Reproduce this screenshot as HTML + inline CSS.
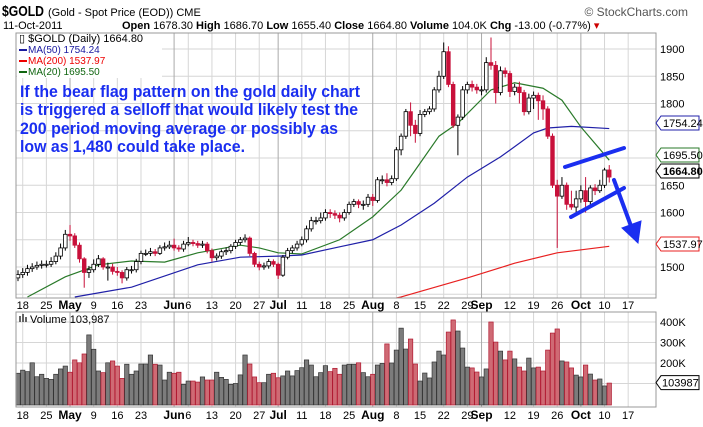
<!DOCTYPE html>
<html><head><meta charset="utf-8"><style>
body{margin:0;background:#fff;}
svg{display:block;font-family:"Liberation Sans",sans-serif;}
</style></head><body>
<svg id="chart" width="703" height="427" viewBox="0 0 703 427" xmlns="http://www.w3.org/2000/svg">
<g>
<text x="2" y="16" font-size="15" font-weight="bold" textLength="42" lengthAdjust="spacingAndGlyphs">$GOLD</text>
<text x="48" y="16" font-size="11">(Gold - Spot Price (EOD)) CME</text>
<text x="688" y="16" font-size="12" fill="#555" text-anchor="end">© StockCharts.com</text>
<text x="3" y="29" font-size="11">11-Oct-2011</text>
<text x="122" y="29" font-size="11"><tspan font-weight="bold">Open</tspan> 1678.30 <tspan font-weight="bold">High</tspan> 1686.70 <tspan font-weight="bold">Low</tspan> 1655.40 <tspan font-weight="bold">Close</tspan> 1664.80 <tspan font-weight="bold">Volume</tspan> 104.0K <tspan font-weight="bold">Chg</tspan> -13.00 (-0.77%) <tspan fill="#c00">▾</tspan></text>
</g>
<g id="grid"></g>
<g id="mas"></g>
<g id="candles"></g>
<g id="vols"></g>
<rect x="16" y="33" width="640" height="265" fill="none" stroke="#999"/>
<rect x="16" y="312" width="640" height="95" fill="none" stroke="#999"/>
<g>
<rect x="17" y="34" width="145" height="44" fill="#fff"/>
<text x="19" y="42" font-size="11">▯ $GOLD (Daily) 1664.80</text>
<rect x="19" y="49" width="8" height="2" fill="#1a1aa0"/>
<text x="28" y="53" font-size="10" fill="#1a1aa0">MA(50) 1754.24</text>
<rect x="19" y="60" width="8" height="2" fill="#e00"/>
<text x="28" y="64" font-size="10" fill="#e00">MA(200) 1537.97</text>
<rect x="19" y="71" width="8" height="2" fill="#116611"/>
<text x="28" y="75" font-size="10" fill="#116611">MA(20) 1695.50</text>
</g>
<g fill="#1a2ef0" font-size="17" font-weight="bold">
<text x="20" y="97" textLength="340" lengthAdjust="spacingAndGlyphs">If the bear flag pattern on the gold daily chart</text>
<text x="20" y="115" textLength="338" lengthAdjust="spacingAndGlyphs">is triggered a selloff that would likely test the</text>
<text x="20" y="134" textLength="318" lengthAdjust="spacingAndGlyphs">200 period moving average or possibly as</text>
<text x="20" y="152" textLength="225" lengthAdjust="spacingAndGlyphs">low as 1,480 could take place.</text>
</g>
<g stroke="#1a2ef0" stroke-width="4" stroke-linecap="round">
<line x1="565" y1="167" x2="624" y2="148"/>
<line x1="571" y1="217" x2="624" y2="188"/>
<line x1="614" y1="180" x2="631" y2="226"/>
<polygon points="622,228 641,221 638,243" fill="#1a2ef0" stroke-width="1"/>
</g>
<g id="tags"></g>
<g>
<rect x="19" y="316" width="2" height="6" fill="#666"/><rect x="22" y="314" width="2" height="8" fill="#666"/><rect x="25" y="317" width="2" height="5" fill="#666"/>
<text x="30" y="323" font-size="11">Volume 103,987</text>
</g>
</svg>
<script>
const C=[1486,1490,1497,1500,1503,1505,1505,1510,1520,1535,1560,
1557,1540,1515,1490,1495,1505,1515,1500,1500,1492,1490,1480,1495,1495,1510,1525,1525,1528,1525,1535,1537,1540,
1535,1533,1542,1545,1543,1540,1542,1530,1517,1520,1528,1530,1538,1545,1550,1553,1525,1505,1500,1502,1510,1505,
1485,1518,1530,1535,1542,1550,1570,1585,1585,1590,1600,1598,1595,1590,1600,1615,1620,1615,1615,1628,
1622,1660,1660,1655,1662,1715,1740,1785,1760,1745,1780,1785,1790,1825,1850,1895,1835,1760,1775,1825,1835,1830,1825,
1825,1875,1870,1820,1860,1855,1822,1830,1820,1785,1810,1815,1805,1790,1740,1650,1630,1650,1615,1610,1625,
1640,1620,1645,1640,1650,1678,1665];
const O=[1480,1486,1490,1497,1500,1503,1505,1505,1510,1520,1535,
1560,1557,1540,1515,1490,1495,1505,1515,1500,1500,1492,1490,1480,1495,1495,1510,1525,1525,1528,1525,1535,1537,
1540,1535,1533,1542,1545,1543,1540,1542,1530,1517,1520,1528,1530,1538,1545,1550,1553,1525,1505,1500,1502,1510,
1505,1485,1518,1530,1535,1542,1550,1570,1585,1585,1590,1600,1598,1595,1590,1600,1615,1620,1615,1615,
1628,1622,1660,1660,1655,1662,1715,1740,1785,1760,1745,1780,1785,1790,1825,1850,1895,1835,1760,1775,1825,1835,1830,
1825,1825,1875,1870,1820,1860,1855,1822,1830,1820,1785,1810,1815,1805,1790,1740,1650,1630,1650,1615,1610,
1625,1640,1620,1645,1640,1650,1678];
const H=[1494,1498,1504,1507,1510,1512,1512,1518,1527,1543,1568,
1577,1562,1545,1518,1502,1514,1522,1518,1508,1506,1500,1494,1500,1502,1515,1530,1532,1535,1533,1540,1545,1548,
1552,1540,1548,1555,1550,1548,1548,1546,1534,1525,1532,1536,1542,1550,1555,1560,1556,1528,1510,1508,1515,1514,
1508,1522,1535,1540,1548,1556,1576,1592,1592,1600,1606,1606,1604,1600,1606,1620,1625,1624,1622,1634,
1634,1665,1668,1672,1668,1720,1745,1790,1802,1770,1788,1790,1795,1830,1860,1912,1905,1840,1780,1832,1840,1842,1836,
1832,1885,1921,1878,1868,1866,1860,1836,1840,1825,1818,1822,1820,1815,1795,1745,1660,1665,1655,1640,1640,
1650,1665,1650,1652,1660,1682,1687];
const L=[1474,1480,1484,1491,1495,1497,1499,1500,1505,1514,1530,
1548,1535,1508,1462,1480,1490,1500,1495,1475,1486,1484,1470,1475,1488,1490,1505,1520,1520,1520,1522,1530,1533,
1530,1528,1528,1538,1538,1535,1535,1525,1510,1512,1515,1522,1525,1533,1540,1545,1520,1500,1494,1495,1497,1500,
1478,1482,1514,1525,1530,1538,1545,1565,1578,1580,1585,1590,1588,1582,1585,1596,1610,1608,1605,1610,
1612,1618,1652,1648,1650,1658,1705,1735,1740,1728,1740,1775,1780,1785,1820,1845,1830,1755,1705,1770,1818,1822,1818,
1815,1820,1862,1800,1815,1848,1812,1815,1800,1778,1780,1790,1770,1770,1735,1645,1535,1625,1605,1605,1600,
1618,1600,1610,1632,1636,1645,1655];
const volumes=[150,165,158,201,133,145,125,120,145,171,185,155,215,201,244,337,267,161,153,201,210,185,125,194,145,161,195,195,239,194,190,117,155,150,155,96,112,112,107,132,117,117,155,130,120,96,100,142,239,195,132,104,104,145,150,128,137,161,137,163,177,215,190,133,153,187,158,174,145,190,194,194,201,153,133,145,190,198,
293,200,263,370,268,317,195,112,151,127,205,258,239,351,410,356,273,180,176,156,132,171,400,302,258,
215,258,220,180,161,224,176,180,161,263,346,366,210,205,176,141,132,190,146,117,122,88,102];
const ma20Idx=[2,10,17,24,31,38,47,51,55,60,68,75,81,84,89,93,100,105,111,115,119,125];
const ma20Val=[1445,1482,1504,1511,1509,1526,1540,1535,1526,1524,1550,1592,1641,1678,1740,1764,1825,1838,1828,1806,1757,1696];
const ma50Idx=[12,24,38,47,55,60,68,75,81,88,95,102,109,112,117,125];
const ma50Val=[1445,1463,1504,1518,1520,1522,1537,1550,1577,1617,1665,1702,1746,1755,1758,1754];
const ma200Idx=[80,81,95,105,114,125];
const ma200Val=[1443,1445,1480,1507,1526,1538];
const tickIdx=[1,6,11,16,21,26,33,36,41,46,51,55,60,65,70,75,80,85,90,95,98,104,109,114,119,124,129];
const tickLabels=["18","25","May","9","16","23","Jun","6","13","20","27","Jul","11","18","25","Aug","8","15","22","29","Sep","12","19","26","Oct","10","17"];
const priceTicks=[1500,1550,1600,1650,1800,1850,1900];
const priceGrid=[1450,1500,1550,1600,1650,1700,1750,1800,1850,1900];
const volTicks=[100,200,300,400];
const volTickLabels=["","200K","300K","400K"];
const tagVals=[1754.24,1695.50,1664.80,1537.97];
const tagLabels=["1754.24","1695.50","1664.80","1537.97"];

const NS="http://www.w3.org/2000/svg";
const X=i=>18+i*4.73;
const YP=p=>49+(1900-p)*0.545;
const YV=v=>404-v*0.205;
function mk(tag,attrs,parent){const e=document.createElementNS(NS,tag);for(const k in attrs)e.setAttribute(k,attrs[k]);parent.appendChild(e);return e;}
const grid=document.getElementById('grid');
priceGrid.forEach(p=>{
 const l=mk('line',{x1:16,x2:656,y1:YP(p),y2:YP(p),stroke:'#d6d6d6'},grid);
 
 
});
priceTicks.forEach(p=>{
 const t=mk('text',{x:660,y:YP(p)+4,'font-size':11},grid);t.textContent=p;
 
 
});
volTicks.forEach((v,k)=>{
 const l=mk('line',{x1:16,x2:656,y1:YV(v),y2:YV(v),stroke:'#d6d6d6'},grid);
 
 
 if(volTickLabels[k]){const t=mk('text',{x:660,y:YV(v)+4,'font-size':11},grid);t.textContent=volTickLabels[k];
 
 }
});
tickIdx.forEach((i,k)=>{
 const isM=/[A-Za-z]/.test(tickLabels[k]);
 const x=X(i);
 [[33,298],[312,407]].forEach(r=>{
  const l=mk('line',{x1:x,x2:x,y1:r[0],y2:r[1],stroke:isM?'#aaa':'#d6d6d6'},grid);
  
  
 });
 [309,419].forEach(y=>{
  const t=mk('text',{x:x,y:y,'font-size':isM?12:11,'font-weight':isM?'bold':'normal','text-anchor':'middle'},grid);
  t.textContent=tickLabels[k];
  
  
 });
});
const mas=document.getElementById('mas');
[[ma20Idx,ma20Val,'#2a7a2a','ma20-line'],[ma50Idx,ma50Val,'#2020a8','ma50-line'],[ma200Idx,ma200Val,'#e82020','ma200-line']].forEach(s=>{
 const pts=s[0].map((i,k)=>X(i)+','+Math.min(298,YP(s[1][k]))).join(' ');
 const pl=mk('polyline',{points:pts,fill:'none',stroke:s[2],'stroke-width':1.2},mas);
 
 
});
const cg=document.getElementById('candles');
C.forEach((c,i)=>{
 const x=X(i),o=O[i];
 const down=i>0&&c<C[i-1];
 const col=down?'#c8103a':'#000';
 const w=mk('line',{x1:x,x2:x,y1:YP(H[i]),y2:YP(L[i]),stroke:col},cg);
 
 
 const top=YP(Math.max(o,c)),bot=YP(Math.min(o,c));
 const b=mk('rect',{x:x-1.8,y:top,width:3.6,height:Math.max(1,bot-top),fill:c<o?col:'#fff',stroke:col,'stroke-width':0.8},cg);
 
 
});
const vg=document.getElementById('vols');
volumes.forEach((v,i)=>{
 const down=i>0&&C[i]<C[i-1];
 const r=mk('rect',{x:X(i)-2.2,y:YV(v),width:4.4,height:405-YV(v),fill:down?'#cf6a74':'#7c7c7c',stroke:down?'#b01830':'#333','stroke-width':0.7},vg);
 
 
});
const tg=document.getElementById('tags');
const tagY=[123,155,171,244];
const tagCols=['#2020a8','#2a7a2a','#000','#e82020'];
tagVals.forEach((v,k)=>{
 const y=tagY[k];
 const p=mk('polygon',{points:`656,${y} 661,${y-7} 699,${y-7} 699,${y+7} 661,${y+7}`,fill:'#fff',stroke:tagCols[k]},tg);
 
 
 const t=mk('text',{x:663,y:y+4,'font-size':11,'font-weight':k==2?'bold':'normal'},tg);t.textContent=tagLabels[k];
 
 
});
const vy=YV(103.987);
const vp=mk('polygon',{points:`656,${vy} 661,${vy-7} 699,${vy-7} 699,${vy+7} 661,${vy+7}`,fill:'#fff',stroke:'#000'},tg);


const vt=mk('text',{x:662,y:vy+4,'font-size':11},tg);vt.textContent='103987';


</script>
</body></html>
